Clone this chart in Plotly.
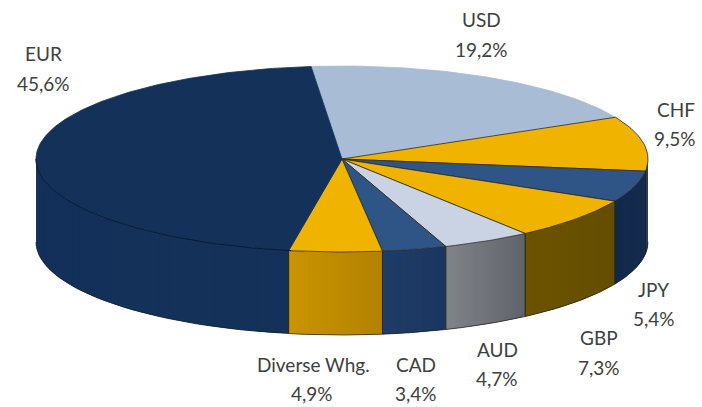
import numpy as np
import plotly.graph_objects as go

# ---- data ----
names = ["USD", "CHF", "JPY", "GBP", "AUD", "CAD", "Diverse Whg.", "EUR"]
values = [19.2, 9.5, 5.4, 7.3, 4.7, 3.4, 4.9, 45.6]

# ---- style ----
top_colors = ["#a9bcd5", "#f0b400", "#2f5587", "#f0b400", "#c9d3e3", "#2f5587", "#f0b400", "#143159"]
side_left = ["#a9bcd5", "#12294a", "#12294a", "#6b5300", "#808489", "#1f3d66", "#c99400", "#12305a"]
side_right = ["#a9bcd5", "#12294a", "#142c50", "#634d00", "#5f636a", "#1a3660", "#b38300", "#143159"]
edge_lines = [False, True, True, True, True, True, True, False]
label_line1 = [(481, 19), (676, 109), (653, 289), (599, 337), (497, 349), (416, 364), (313, 364), (43, 53)]
label_line2 = [(481, 49), (675, 138), (654, 318), (599, 367), (497, 378), (416, 393), (312, 393), (43, 83)]

CX, CY, RX, RY, DEPTH = 342, 159, 306, 93, 83
START_DEG = -5.8
EDGE = "#2b2a1c"


def hex_rgb(h):
    return np.array([int(h[i:i + 2], 16) for i in (1, 3, 5)], float)


def mix(a, b, t):
    c = hex_rgb(a) * (1 - t) + hex_rgb(b) * t
    return "rgb(%d,%d,%d)" % tuple(c.round())


def arc(a0, a1, n=60, dy=0):
    th = np.radians(np.linspace(a0, a1, n))
    return CX + RX * np.sin(th), CY - RY * np.cos(th) + dy


fig = go.Figure()


def poly(x, y, fill, line=None, width=0.6):
    fig.add_trace(go.Scatter(x=list(x), y=list(y), mode="lines", fill="toself", fillcolor=fill,
                             line=dict(color=line or fill, width=width), hoverinfo="skip", showlegend=False))


def stroke(x, y, color=EDGE, width=0.9):
    fig.add_trace(go.Scatter(x=list(x), y=list(y), mode="lines", line=dict(color=color, width=width),
                             hoverinfo="skip", showlegend=False))


angles = START_DEG + np.concatenate([[0], np.cumsum(values)]) * 3.6

# side wall: only the front half of the cylinder is visible
for i in range(len(values)):
    a0, a1 = max(angles[i], 90), min(angles[i + 1], 270)
    if a1 <= a0:
        continue
    strips = max(24, int((a1 - a0) / 2))
    edges = np.linspace(a0, a1, strips + 1)
    for k in range(strips):
        # each strip reaches into the next one, so no hairline shows between them
        hi = edges[min(k + 2, strips)]
        x0, y0 = arc(edges[k], hi, 6)
        x1, y1 = arc(hi, edges[k], 6, DEPTH)
        t = (k + 0.5) / strips
        poly(np.r_[x0, x1, x0[0]], np.r_[y0, y1, y0[0]], mix(side_right[i], side_left[i], t), width=0)
for i in range(len(values)):
    a0, a1 = max(angles[i], 90), min(angles[i + 1], 270)
    if a1 <= a0:
        continue
    bx, by = arc(a0, a1, 40, DEPTH)
    stroke(bx, by, "#1c1c14", 0.7)
    if angles[i] > 90:
        sx, sy = arc(a0, a0, 2)
        stroke([sx[0], sx[0]], [sy[0], sy[0] + DEPTH], "#1c1c14", 0.9)

# top face
for i, v in enumerate(values):
    x, y = arc(angles[i], angles[i + 1], max(8, int(v * 4)))
    px, py = np.r_[CX, x, CX], np.r_[CY, y, CY]
    poly(px, py, top_colors[i], EDGE if edge_lines[i] else top_colors[i], 0.8)

# dark rim where the top of EUR meets its wall
rx_, ry_ = arc(189.6, 270, 60)
stroke(rx_, ry_, "#0b1a30", 1.0)

anns = []
for name, v, p1, p2 in zip(names, values, label_line1, label_line2):
    pct = f"{v:.1f}%".replace(".", ",")
    for text, (x, y) in ((name, p1), (pct, p2)):
        anns.append(dict(x=x, y=y, xref="x", yref="y", text=text, showarrow=False,
                         xanchor="center", yanchor="middle",
                         font=dict(family="Lato", size=19, color="#404040")))

fig.update_layout(
    width=702, height=407, margin=dict(l=0, r=0, t=0, b=0),
    paper_bgcolor="white", plot_bgcolor="white", showlegend=False, annotations=anns,
    xaxis=dict(range=[0, 702], visible=False, fixedrange=True),
    yaxis=dict(range=[407, 0], visible=False, fixedrange=True),
)
fig.write_html("out.html", config=dict(displayModeBar=False),
               post_script="document.body.style.margin='0';document.body.style.overflow='hidden';")
